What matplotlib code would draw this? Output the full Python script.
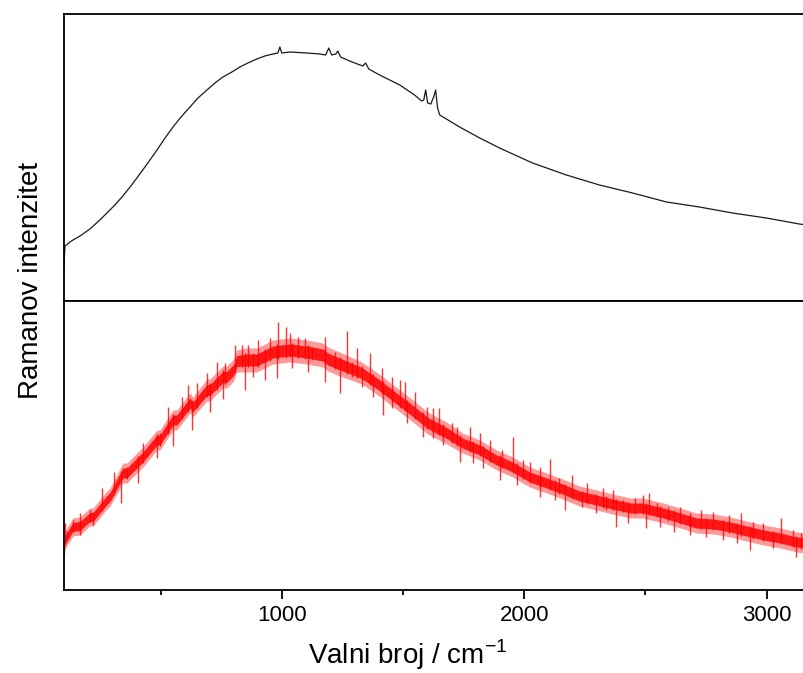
import matplotlib
matplotlib.use("Agg")
import matplotlib.pyplot as plt
import numpy as np

plt.rcParams['font.family'] = ['Liberation Sans', 'DejaVu Sans']
plt.rcParams['mathtext.fontset'] = 'custom'
plt.rcParams['mathtext.rm'] = 'Liberation Sans'

# top spectrum (black), wavenumber / arbitrary intensity
top_x = [100, 102, 104, 125, 137, 166, 207, 248, 277, 310, 343, 376, 413, 446,
         484, 517, 550, 583, 620, 653, 690, 723, 756, 793, 826, 859, 896, 929,
         962, 983, 991, 999, 1032, 1102, 1156, 1180, 1193, 1205, 1222, 1230,
         1242, 1279, 1333, 1345, 1358, 1403, 1486, 1547, 1576, 1585, 1593,
         1601, 1614, 1626, 1634, 1642, 1651, 1733, 1816, 1898, 2034, 2174,
         2310, 2447, 2587, 2723, 2859, 2999, 3135, 3200]
top_y = [30, 45, 54, 58, 60, 64, 71, 80, 87, 95, 104, 114, 126, 137,
         150, 162, 173, 183, 193, 202, 210, 217, 223, 228, 233, 237, 241, 244,
         246, 247, 253, 247, 248, 247, 246, 245, 252, 245, 246, 249,
         243, 239, 234, 237, 231, 225, 215, 205, 199, 200, 210,
         197, 196, 203, 210, 192, 185, 173, 162, 152, 137, 125,
         115, 107, 98, 93, 87, 82, 76, 74]

# bottom spectrum (red): centre of the noisy trace and its half spread
red_x = [100, 104, 137, 166, 207, 220, 277, 290, 343, 360, 413, 426, 484, 496,
         550, 566, 620, 632, 690, 702, 756, 772, 800, 813, 855, 896, 962, 1032,
         1102, 1168, 1189, 1238, 1329, 1395, 1465, 1535, 1601, 1679, 1745, 1816,
         1886, 1952, 2022, 2092, 2158, 2228, 2298, 2364, 2438, 2488, 2574, 2644,
         2710, 2781, 2851, 2917, 2987, 3057, 3123, 3200]
red_mid = [35, 50, 63, 64, 73, 73, 90, 93, 117, 117, 130, 133, 150, 150,
           170, 170, 187, 183, 200, 200, 213, 213, 220, 229, 230, 230, 238, 240,
           238, 235, 231, 226, 217, 206, 193, 180, 167, 157, 147, 140,
           130, 123, 113, 107, 101, 94, 90, 86, 82, 82, 77, 72,
           67, 66, 63, 59, 55, 52, 48, 46]
red_spread = [8, 9, 9, 9, 9, 9, 9, 9, 10, 10, 10, 10, 10, 10,
              10, 10, 10, 10, 11, 11, 11, 11, 11, 11, 12, 12, 12, 12,
              12, 12, 12, 12, 11, 11, 11, 11, 11, 11, 10, 10,
              10, 10, 10, 10, 10, 10, 10, 10, 10, 10, 10, 10,
              10, 10, 10, 10, 10, 10, 10, 10]

# noise spikes reaching out of the band (wavenumber, tip intensity)
spike_x = [104, 137, 166, 207, 257, 306, 360, 426, 496, 529, 587, 611, 648, 690,
           731, 764, 805, 834, 859, 900, 950, 983, 1016, 1032, 1065, 1094, 1123,
           1176, 1218, 1267, 1308, 1362, 1411, 1453, 1486, 1506, 1548, 1597,
           1622, 1647, 1700, 1721, 1774, 1816, 1857, 1906, 1952, 1993, 2022,
           2063, 2108, 2145, 2199, 2257, 2323, 2368, 2409, 2459, 2492, 2513,
           2546, 2595, 2644, 2686, 2731, 2781, 2843, 2896, 2946, 2987, 3061,
           3111, 3144,
           112, 166, 220, 335, 405, 484, 550, 628, 702, 756, 846, 879, 929,
           978, 1040, 1106, 1176, 1238, 1288, 1329, 1374, 1416, 1453, 1515,
           1580, 1622, 1663, 1733, 1787, 1828, 1898, 1968, 2063, 2125, 2166,
           2240, 2298, 2339, 2380, 2430, 2504, 2562, 2616, 2686, 2752, 2822,
           2876, 2933, 3028, 3123]
spike_y = [67, 70, 77, 80, 102, 118, 123, 147, 157, 183, 193, 205, 207, 217,
           228, 227, 245, 245, 245, 250, 252, 268, 263, 257, 253, 252, 243,
           253, 238, 259, 242, 237, 222, 213, 210, 208, 198, 183,
           182, 182, 167, 163, 163, 157, 150, 140, 153, 130, 128,
           123, 131, 112, 115, 107, 102, 100, 90, 92, 95, 97,
           87, 83, 83, 77, 80, 78, 75, 77, 68, 67, 72,
           60, 57,
           53, 55, 65, 87, 107, 132, 144, 160, 178, 191, 200, 213, 210,
           212, 222, 218, 208, 197, 213, 203, 193, 175, 182, 167,
           153, 152, 145, 128, 127, 122, 110, 105, 93, 90, 80,
           83, 77, 80, 63, 67, 62, 63, 58, 55, 53, 50,
           47, 40, 42, 33]

xticks_major = [1000, 2000, 3000]
xticks_minor = [500, 1500, 2500]

fig = plt.figure(figsize=(8.04, 6.73), dpi=100)
ax_top = fig.add_axes([64 / 804, 1 - 301 / 673, 751 / 804, 287 / 673])
ax_bot = fig.add_axes([64 / 804, 1 - 590 / 673, 751 / 804, 289 / 673])

ax_top.plot(top_x, top_y, color='#1a1a1a', lw=0.9)
ax_top.set_ylim(-1, 286)

rx = np.array(red_x)
rm = np.array(red_mid)
rs = np.array(red_spread)
sx = np.array(spike_x)
sy = np.array(spike_y)
ax_bot.fill_between(rx, rm - rs, rm + rs, color='#ff0000', alpha=0.4, lw=0)
ax_bot.fill_between(rx, rm - rs * 0.5, rm + rs * 0.5, color='#ff0000', alpha=0.85, lw=0)
# each spike is drawn as a stroke crossing the band
mid_at = np.interp(sx, rx, rm)
spr_at = np.interp(sx, rx, rs)
tail = mid_at - np.sign(sy - mid_at) * spr_at * 0.6
ax_bot.vlines(sx, tail, sy, color='#ff0000', lw=1.0, alpha=0.8)
ax_bot.set_ylim(0, 289)

for ax in (ax_top, ax_bot):
    ax.set_xlim(100, 3200)
    ax.set_yticks([])
    for s in ax.spines.values():
        s.set_linewidth(1.3)

ax_top.set_xticks([])
ax_bot.set_xticks(xticks_major)
ax_bot.set_xticks(xticks_minor, minor=True)
ax_bot.tick_params(axis='x', which='major', direction='out', length=6.5, width=1.3,
                   labelsize=16, pad=4)
ax_bot.tick_params(axis='x', which='minor', direction='out', length=3.5, width=1.3)

fig.text(408 / 804, 1 - 655 / 673, 'Valni broj / cm$^{-1}$', fontsize=20,
         ha='center', va='center')
fig.text(31 / 804, 1 - 280 / 673, 'Ramanov intenzitet', fontsize=20,
         rotation=90, ha='center', va='center')

fig.savefig('out.png', dpi=100)
